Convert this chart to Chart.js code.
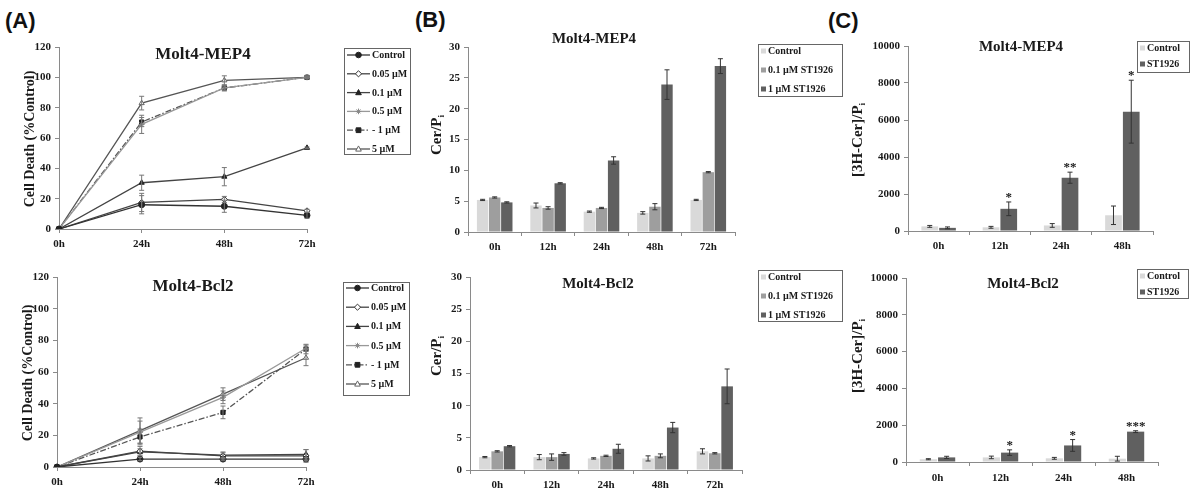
<!DOCTYPE html>
<html><head><meta charset="utf-8">
<script src="https://cdn.jsdelivr.net/npm/chart.js@4.4.0/dist/chart.umd.min.js"></script>
<style>
body{margin:0;background:#fff;width:1195px;height:490px;overflow:hidden;position:relative;font-family:'Liberation Sans',Arial,sans-serif}
.pl{position:absolute;font-weight:bold;font-size:22px;color:#111;line-height:24px}
canvas{position:absolute}
</style></head><body>
<div class="pl" style="left:5px;top:9px">(A)</div>
<div class="pl" style="left:415px;top:8px">(B)</div>
<div class="pl" style="left:828px;top:9px">(C)</div>
<canvas id="a1"></canvas><canvas id="a2"></canvas>
<canvas id="b1"></canvas><canvas id="b2"></canvas>
<canvas id="c1"></canvas><canvas id="c2"></canvas>
<script>
// ---------- DATA ----------
const timeA = ['0h','24h','48h','72h'];
const timeB = ['0h','12h','24h','48h','72h'];
const timeC = ['0h','12h','24h','48h'];
const seriesA = ['Control','0.05 µM','0.1 µM','0.5 µM','1 µM','5 µM'];
const seriesB = ['Control','0.1 µM ST1926','1 µM ST1926'];
const seriesC = ['Control','ST1926'];

// Panel A, Molt4-MEP4
const a1Control = [0,16,15,9],     a1ControlErr = [0,6,4,2];
const a1D005    = [0,17.5,19.5,12],a1D005Err    = [0,6,2,1];
const a1D01     = [0,30.5,34.5,53.5],a1D01Err   = [0,5,6,0.5];
const a1D05     = [0,69,93,100],   a1D05Err     = [0,6,2,0.5];
const a1D1      = [0,70.5,93,100], a1D1Err      = [0,3,1.5,0.5];
const a1D5      = [0,83,98,100],   a1D5Err      = [0,4.5,3,1];
// Panel A, Molt4-Bcl2
const a2Control = [0,5,5,5],       a2ControlErr = [0,1,1,1];
const a2D005    = [0,10,7,7],      a2D005Err    = [0,3,2,4];
const a2D01     = [0,9.5,7.5,8],   a2D01Err     = [0,2,2,3];
const a2D05     = [0,22,44,75],    a2D05Err     = [0,7,4,2];
const a2D1      = [0,19,34.5,74.5],a2D1Err      = [0,5,4,3];
const a2D5      = [0,23,46,69],    a2D5Err      = [0,8,4,5];
// Panel B
const b1Control = [5.2,4.3,3.3,3.1,5.2], b1ControlErr = [0.1,0.4,0.1,0.2,0.1];
const b1D01     = [5.6,3.9,3.9,4.1,9.7], b1D01Err     = [0.1,0.2,0.1,0.5,0.1];
const b1D1      = [4.8,7.9,11.6,23.9,26.9], b1D1Err   = [0.1,0.1,0.6,2.4,1.2];
const b2Control = [2.0,2.0,1.8,1.8,2.9], b2ControlErr = [0.1,0.4,0.1,0.4,0.4];
const b2D01     = [2.9,2.0,2.2,2.2,2.6], b2D01Err     = [0.1,0.5,0.1,0.3,0.1];
const b2D1      = [3.7,2.5,3.3,6.6,13.0], b2D1Err     = [0.1,0.2,0.7,0.8,2.7];
// Panel C
const c1Control = [250,200,300,850], c1ControlErr = [50,50,100,500];
const c1ST      = [170,1200,2880,6450], c1STErr   = [50,370,300,1700];
const c1Sig     = ['','*','**','*'];
const c2Control = [150,250,200,180], c2ControlErr = [30,70,50,130];
const c2ST      = [250,510,900,1650], c2STErr     = [60,150,320,50];
const c2Sig     = ['','*','*','***'];

// ---------- STYLE ----------
const F = "'Liberation Serif','Times New Roman',serif";
Chart.defaults.font.family = F;
Chart.defaults.font.weight = 'bold';
Chart.defaults.font.size = 11;
Chart.defaults.color = '#1a1a1a';
const TXT = '#1a1a1a', AX = '#8a8a8a';
const LIGHT = '#d9d9d9', MID = '#9e9e9e', DARK = '#606060';

function drawMarker(ctx, st, x, y, r, fill, stroke){
  ctx.save(); ctx.lineWidth = 1; ctx.strokeStyle = stroke; ctx.fillStyle = fill;
  ctx.beginPath();
  if (st === 'circle') ctx.arc(x, y, r, 0, Math.PI*2);
  else if (st === 'rectRot') { ctx.moveTo(x, y-r*1.1); ctx.lineTo(x+r*1.1, y); ctx.lineTo(x, y+r*1.1); ctx.lineTo(x-r*1.1, y); ctx.closePath(); }
  else if (st === 'triangle') { ctx.moveTo(x, y-r*1.1); ctx.lineTo(x+r, y+r*0.75); ctx.lineTo(x-r, y+r*0.75); ctx.closePath(); }
  else if (st === 'rect') ctx.rect(x-r*0.85, y-r*0.85, r*1.7, r*1.7);
  else if (st === 'star') {
    ctx.moveTo(x-r, y); ctx.lineTo(x+r, y); ctx.moveTo(x, y-r); ctx.lineTo(x, y+r);
    const d = r*0.7; ctx.moveTo(x-d, y-d); ctx.lineTo(x+d, y+d); ctx.moveTo(x-d, y+d); ctx.lineTo(x+d, y-d);
    ctx.stroke(); ctx.restore(); return;
  }
  ctx.fill(); ctx.stroke(); ctx.restore();
}

const errPlugin = {
  id: 'err',
  afterDatasetsDraw(chart, args, o) {
    const ctx = chart.ctx, ys = chart.scales.y;
    chart.data.datasets.forEach((ds, di) => {
      if (!ds.err) return;
      const meta = chart.getDatasetMeta(di);
      meta.data.forEach((el, i) => {
        const e = ds.err[i], v = ds.data[i];
        const x = el.x;
        const yt = ys.getPixelForValue(v + e), yb = ys.getPixelForValue(Math.max(v - e, 0));
        if (e) {
          ctx.save(); ctx.strokeStyle = ds.errColor || '#444'; ctx.lineWidth = 1;
          const c = ds.cap || 2.5;
          ctx.beginPath();
          ctx.moveTo(x, yt); ctx.lineTo(x, yb);
          ctx.moveTo(x-c, yt); ctx.lineTo(x+c, yt);
          ctx.moveTo(x-c, yb); ctx.lineTo(x+c, yb);
          ctx.stroke(); ctx.restore();
        }
        if (ds.sig && ds.sig[i]) {
          ctx.save(); ctx.fillStyle = TXT; ctx.font = 'bold 13px ' + F;
          ctx.textAlign = 'center'; ctx.textBaseline = 'alphabetic';
          ctx.fillText(ds.sig[i], x, yt - 1);
          ctx.restore();
        }
      });
    });
  }
};

const decoPlugin = {
  id: 'deco',
  afterDraw(chart, args, o) {
    const ctx = chart.ctx, ox = o.ox, oy = o.oy;
    ctx.save();
    ctx.fillStyle = TXT; ctx.textAlign = 'center'; ctx.textBaseline = 'middle';
    ctx.font = 'bold ' + o.titleSize + 'px ' + F;
    ctx.fillText(o.title, o.tx - ox, o.ty - oy);
    // y label
    ctx.save();
    ctx.translate(o.yx - ox, o.yy - oy); ctx.rotate(-Math.PI/2);
    const big = 'bold ' + o.ySize + 'px ' + F, small = 'bold ' + Math.round(o.ySize*0.62) + 'px ' + F;
    ctx.font = big; const w1 = ctx.measureText(o.ylabel).width;
    ctx.font = small; const w2 = ctx.measureText(o.ysub || '').width;
    const t = w1 + w2; ctx.textAlign = 'left';
    ctx.font = big; ctx.fillText(o.ylabel, -t/2, 0);
    if (o.ysub) { ctx.font = small; ctx.fillText(o.ysub, -t/2 + w1, o.ySize*0.32); }
    ctx.restore();
    // legend
    const L = o.legend;
    ctx.strokeStyle = '#666'; ctx.lineWidth = 1;
    ctx.strokeRect(L.x0 - ox + 0.5, L.y0 - oy + 0.5, L.x1 - L.x0, L.y1 - L.y0);
    ctx.font = 'bold ' + L.size + 'px ' + F; ctx.textAlign = 'left'; ctx.textBaseline = 'middle';
    chart.data.datasets.forEach((ds, i) => {
      const y = L.iy + i*L.dy - oy, x = L.ix - ox;
      if (o.kind === 'line') {
        ctx.save(); ctx.strokeStyle = ds.borderColor; ctx.lineWidth = ds.borderWidth;
        ctx.setLineDash(ds.borderDash || []);
        ctx.beginPath(); ctx.moveTo(x, y); ctx.lineTo(x + L.sw, y); ctx.stroke();
        ctx.setLineDash([]); ctx.restore();
        drawMarker(ctx, ds.pointStyle, x + L.sw/2, y, 2.8, ds.pointBackgroundColor, ds.pointBorderColor);
        ctx.fillStyle = TXT; ctx.fillText((ds.legendPrefix || '') + ds.label, x + L.sw + 2, y + 0.5);
      } else {
        ctx.fillStyle = ds.backgroundColor; ctx.fillRect(x, y - 2.5, 5, 5);
        ctx.fillStyle = TXT; ctx.fillText(ds.label, x + 7, y + 0.5);
      }
    });
    ctx.restore();
  }
};

function axisCommon(extra) {
  return Object.assign({
    grid: { display: true, drawOnChartArea: false, drawTicks: true, tickLength: 4, color: AX },
    border: { display: true, color: AX, width: 1 },
  }, extra);
}

function mk(id, g, type, labels, datasets, yopt, deco) {
  const c = document.getElementById(id);
  c.width = g.w; c.height = g.h;
  c.style.left = g.l + 'px'; c.style.top = g.t + 'px';
  c.style.width = g.w + 'px'; c.style.height = g.h + 'px';
  const YW = g.x0 - g.l, XH = g.t + g.h - g.y1;
  const pad = { left: 0, top: g.y0 - g.t, right: g.l + g.w - g.x1, bottom: 0 };
  deco.ox = g.l; deco.oy = g.t; deco.kind = type;
  return new Chart(c, {
    type: type,
    data: { labels: labels, datasets: datasets },
    options: {
      responsive: false, animation: false, devicePixelRatio: 1,
      layout: { padding: pad },
      plugins: { legend: { display: false }, tooltip: { enabled: false }, title: { display: false }, deco: deco },
      scales: {
        x: axisCommon({ offset: type === 'bar', ticks: { color: TXT, font: { size: 11, weight: 'bold' }, padding: g.xpad || 5, maxRotation: 0, autoSkip: false },
             afterFit(s) { s.height = XH; } }),
        y: axisCommon({ min: 0, max: yopt.max, ticks: { stepSize: yopt.step, color: TXT, font: { size: 11, weight: 'bold' }, padding: 4,
               callback: (v) => String(v) },
             afterFit(s) { s.width = YW; } })
      }
    },
    plugins: [errPlugin, decoPlugin]
  });
}

function lineDS(label, data, err, style, fill, color, lineColor, dash, prefix) {
  return { label, data, err, errColor: '#777', cap: 2.5, pointStyle: style, pointRadius: 3, pointBackgroundColor: fill,
    pointBorderColor: color, pointBorderWidth: 1, borderColor: lineColor, borderWidth: 1.3,
    borderDash: dash || [], tension: 0, fill: false, legendPrefix: prefix || '' };
}
function barDS(label, data, err, color, cat, sig) {
  return { label, data, err, sig, backgroundColor: color, categoryPercentage: cat, barPercentage: 0.94, errColor: '#333', cap: 2.5 };
}

function lineSets(c, c5, d01, d05, d1, d5, ec, e5, e01, e05, e1, e5b) {
  return [
    lineDS(seriesA[0], c, ec, 'circle', '#222', '#222', '#333'),
    lineDS(seriesA[1], c5, e5, 'rectRot', '#fff', '#333', '#444'),
    lineDS(seriesA[2], d01, e01, 'triangle', '#222', '#222', '#444'),
    lineDS(seriesA[3], d05, e05, 'star', '#fff', '#888', '#999'),
    lineDS(seriesA[4], d1, e1, 'rect', '#222', '#222', '#555', [6,2,1.5,2], '- '),
    lineDS(seriesA[5], d5, e5b, 'triangle', '#fff', '#666', '#555')
  ];
}

// ---------- PANEL A ----------
mk('a1', { l: 0, t: 22, w: 420, h: 232, x0: 59, x1: 307, y0: 47, y1: 229 }, 'line', timeA,
  lineSets(a1Control, a1D005, a1D01, a1D05, a1D1, a1D5, a1ControlErr, a1D005Err, a1D01Err, a1D05Err, a1D1Err, a1D5Err),
  { max: 120, step: 20 },
  { title: 'Molt4-MEP4', tx: 203, ty: 55, titleSize: 17, ylabel: 'Cell Death (%Control)', yx: 30, yy: 139, ySize: 14,
    legend: { x0: 344, x1: 410, y0: 48, y1: 154, ix: 347, iy: 55, dy: 18.8, sw: 23, size: 10 } });

mk('a2', { l: 0, t: 258, w: 420, h: 232, x0: 57, x1: 306, y0: 277, y1: 467 }, 'line', timeA,
  lineSets(a2Control, a2D005, a2D01, a2D05, a2D1, a2D5, a2ControlErr, a2D005Err, a2D01Err, a2D05Err, a2D1Err, a2D5Err),
  { max: 120, step: 20 },
  { title: 'Molt4-Bcl2', tx: 193, ty: 287, titleSize: 17, ylabel: 'Cell Death (%Control)', yx: 28, yy: 373, ySize: 14,
    legend: { x0: 343, x1: 409, y0: 282, y1: 395, ix: 346, iy: 288, dy: 19.2, sw: 23, size: 10 } });

// ---------- PANEL B ----------
mk('b1', { l: 420, t: 22, w: 430, h: 232, x0: 468, x1: 735, y0: 47, y1: 232 }, 'bar', timeB,
  [barDS(seriesB[0], b1Control, b1ControlErr, LIGHT, 0.68), barDS(seriesB[1], b1D01, b1D01Err, MID, 0.68), barDS(seriesB[2], b1D1, b1D1Err, DARK, 0.68)],
  { max: 30, step: 5 },
  { title: 'Molt4-MEP4', tx: 594, ty: 39, titleSize: 15, ylabel: 'Cer/P', ysub: 'i', yx: 437, yy: 135, ySize: 15,
    legend: { x0: 758, x1: 842, y0: 44, y1: 96, ix: 761, iy: 51, dy: 19, size: 10 } });

mk('b2', { l: 420, t: 258, w: 430, h: 232, x0: 470, x1: 742, y0: 277, y1: 470 }, 'bar', timeB,
  [barDS(seriesB[0], b2Control, b2ControlErr, LIGHT, 0.68), barDS(seriesB[1], b2D01, b2D01Err, MID, 0.68), barDS(seriesB[2], b2D1, b2D1Err, DARK, 0.68)],
  { max: 30, step: 5 },
  { title: 'Molt4-Bcl2', tx: 598, ty: 284, titleSize: 15, ylabel: 'Cer/P', ysub: 'i', yx: 437, yy: 356, ySize: 15,
    legend: { x0: 758, x1: 842, y0: 270, y1: 321, ix: 761, iy: 277, dy: 19, size: 10 } });

// ---------- PANEL C ----------
mk('c1', { l: 850, t: 22, w: 345, h: 232, x0: 908, x1: 1153, y0: 46, y1: 231 }, 'bar', timeC,
  [barDS(seriesC[0], c1Control, c1ControlErr, LIGHT, 0.58), barDS(seriesC[1], c1ST, c1STErr, DARK, 0.58, c1Sig)],
  { max: 10000, step: 2000 },
  { title: 'Molt4-MEP4', tx: 1021, ty: 47, titleSize: 15, ylabel: '[3H-Cer]/P', ysub: 'i', yx: 858, yy: 140, ySize: 15,
    legend: { x0: 1137, x1: 1189, y0: 41, y1: 72, ix: 1140, iy: 48, dy: 16, size: 10 } });

mk('c2', { l: 850, t: 258, w: 345, h: 232, x0: 906, x1: 1158, y0: 278, y1: 462, xpad: 6 }, 'bar', timeC,
  [barDS(seriesC[0], c2Control, c2ControlErr, LIGHT, 0.58), barDS(seriesC[1], c2ST, c2STErr, DARK, 0.58, c2Sig)],
  { max: 10000, step: 2000 },
  { title: 'Molt4-Bcl2', tx: 1023, ty: 284, titleSize: 15, ylabel: '[3H-Cer]/P', ysub: 'i', yx: 858, yy: 356, ySize: 15,
    legend: { x0: 1137, x1: 1188, y0: 269, y1: 298, ix: 1140, iy: 276, dy: 16, size: 10 } });
</script>
</body></html>
